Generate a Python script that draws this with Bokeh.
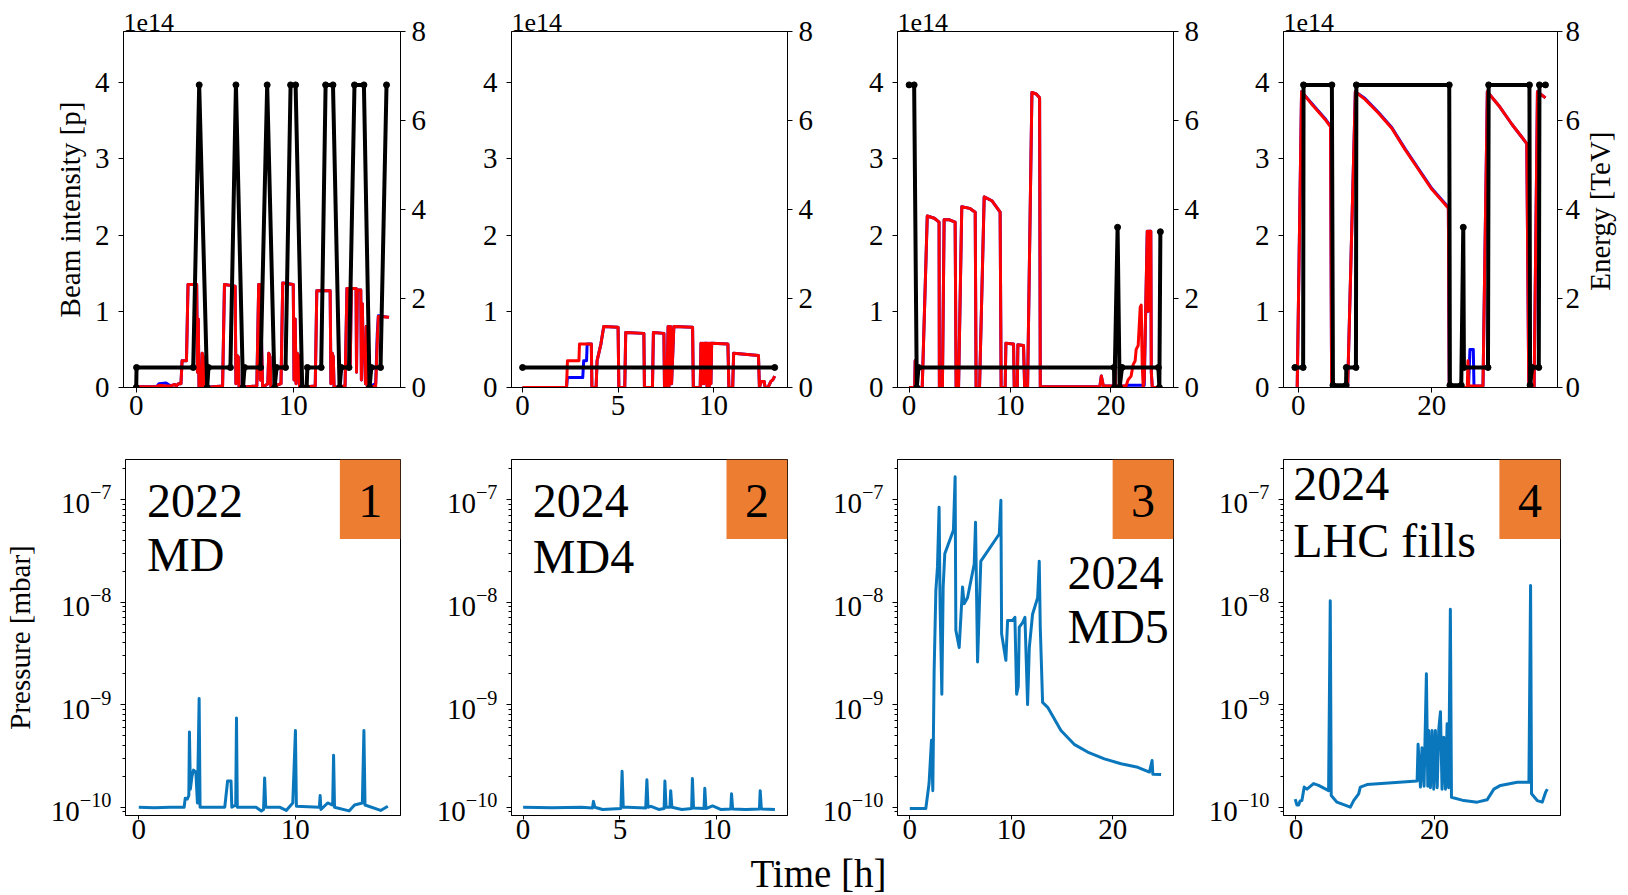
import math
from bokeh.plotting import figure
from bokeh.models import Range1d, LinearAxis, FixedTicker, Label, BoxAnnotation
from bokeh.layouts import column, row
from bokeh.embed import file_html
from bokeh.resources import INLINE

FONT = "Liberation Serif"
RED = "#ff0000"
BLUE = "#0000ff"
PBLUE = "#0a77bd"
ORANGE = "#ed7d31"

# ---------------- data: top row (beam intensity in 1e14 p, energy in TeV) ----------------
t_int1 = [0, 1.3, 1.45, 1.9, 2.2, 2.45, 2.55, 2.7, 2.85, 2.92, 3.2, 3.3, 3.85, 3.9, 3.95, 4.0, 4.15, 4.2, 4.27, 4.32,
          5.5, 5.62, 6.3, 6.35, 6.42, 6.5, 6.55, 7.68, 7.8, 7.86, 7.9, 7.98, 8.05, 8.38, 8.44, 8.52, 8.58, 9.22, 9.33,
          10.0, 10.05, 10.12, 10.18, 10.25, 10.33, 10.4, 11.4, 11.5, 12.35, 12.4, 12.48, 12.55, 12.6, 13.3, 13.42,
          13.6, 13.63, 13.7, 14.0, 14.03, 14.08, 14.3, 14.34, 14.4, 14.45, 14.55, 14.6, 14.65, 14.72, 15.25, 15.35,
          15.42, 16.1]
red1 = [0.01, 0.01, 0.03, 0.02, 0.02, 0.04, 0.02, 0.05, 0.05, 0.35, 0.35, 1.35, 1.35, 0.2, 0.9, 0, 0, 0.45, 0.4, 0,
        0.02, 1.35, 1.33, 0.05, 0.42, 0.4, 0, 0.02, 1.35, 1.35, 0.1, 0.6, 0, 0.05, 0.45, 0.4, 0, 0.05, 1.37,
        1.35, 0.1, 0.9, 0.05, 0.45, 0.42, 0, 0.02, 1.27, 1.27, 0.05, 0.45, 0.4, 0, 0.02, 1.3,
        1.3, 0.3, 1.3, 1.3, 0.2, 1.28, 1.28, 0.1, 1.1, 0.45, 0.4, 0.05, 0.8, 0, 0.02, 0.6,
        0.93, 0.92]
blue1 = [0.01, 0.01, 0.05, 0.06, 0.02, 0.04, 0.02, 0.05, 0.05, 0.35, 0.35, 1.35, 1.35, 0.2, 0.9, 0, 0, 0.45, 0.4, 0,
         0.02, 1.35, 1.33, 0.05, 0.42, 0.4, 0, 0.02, 1.35, 1.35, 0.1, 0.6, 0, 0.05, 0.45, 0.4, 0, 0.05, 1.37,
         1.35, 0.1, 0.9, 0.05, 0.45, 0.42, 0, 0.02, 1.27, 1.27, 0.05, 0.45, 0.4, 0, 0.02, 1.3,
         1.3, 0.3, 1.3, 1.3, 0.2, 1.28, 1.28, 0.1, 1.1, 0.45, 0.4, 0.05, 0.8, 0, 0.05, 0.7,
         0.94, 0.92]
t_en1 = [0, 0.02, 3.63, 4.01, 4.52, 4.6, 6.0, 6.35, 6.8, 6.9, 7.92, 8.34, 8.81, 8.94, 9.51, 9.83, 10.15, 10.57,
         10.85, 10.9, 11.78, 12.06, 12.53, 12.95, 13.06, 13.55, 13.9, 14.5, 14.86, 14.97, 15.56, 15.94]
en1 = [0, 0.45, 0.45, 6.8, 0, 0.45, 0.45, 6.8, 0, 0.45, 0.45, 6.8, 0, 0.45, 0.45, 6.8, 6.8, 0,
       0, 0.45, 0.45, 6.8, 6.8, 0, 0.45, 0.45, 6.8, 6.8, 0, 0.45, 0.45, 6.8]

t_int2 = [0, 2.3, 2.35, 2.95, 2.98, 3.6, 3.63, 3.85, 3.9, 4.1, 4.25, 5.0, 5.04, 5.35, 5.4, 6.35, 6.38, 6.8, 6.85,
          7.4, 7.43, 7.5, 7.55, 7.62, 7.66, 7.75, 7.8, 7.92, 8.9, 8.94, 9.3, 9.34, 9.4, 9.45, 9.5, 9.55, 9.62,
          9.66, 9.72, 9.77, 9.82, 9.86, 9.9, 10.75, 10.8, 11.0, 11.05, 12.35, 12.4, 12.5, 12.65, 12.7, 12.85,
          13.0, 13.1, 13.2]
red2 = [0, 0, 0.35, 0.35, 0.57, 0.57, 0, 0, 0.35, 0.57, 0.8, 0.79, 0, 0, 0.72, 0.71, 0, 0, 0.72,
        0.71, 0, 0.35, 0, 0.8, 0, 0.8, 0.05, 0.8, 0.79, 0, 0, 0.58, 0.05, 0.58, 0.05, 0.58, 0.58,
        0, 0.58, 0, 0.58, 0.05, 0.58, 0.57, 0, 0, 0.45, 0.42, 0, 0.08, 0.08, 0, 0,
        0.08, 0.1, 0.15]
t_blue2 = [0, 2.3, 2.35, 3.15, 3.2, 3.35, 3.38, 3.6, 3.63] + t_int2[7:]
blue2 = [0, 0, 0.13, 0.13, 0.35, 0.35, 0.57, 0.57, 0] + red2[7:]
t_en2 = [0, 13.2]
en2 = [0.45, 0.45]

t_int3 = [0, 0.55, 0.6, 0.68, 1.3, 1.8, 2.5, 2.97, 3.0, 3.3, 3.47, 4.0, 4.56, 4.66, 4.9, 5.22, 6.0, 6.55, 6.64,
          6.98, 7.44, 8.2, 9.02, 9.12, 9.52, 9.59, 10.35, 10.42, 10.72, 10.78, 11.34, 11.45, 11.74, 12.17, 12.6,
          12.93, 13.0, 18.9, 19.05, 19.25, 20.3, 20.4, 20.45, 21.5, 21.7, 22.0, 22.2, 22.4, 22.5, 22.7, 22.9,
          23.0, 23.1, 23.2, 23.3, 23.6, 23.7, 23.75, 23.95, 24.0, 24.1, 24.9]
red3 = [0, 0, 0.35, 0, 0, 2.25, 2.22, 2.17, 0, 0, 2.2, 2.2, 2.17, 0, 0, 2.37, 2.35, 2.3, 0,
        0, 2.5, 2.45, 2.3, 0, 0, 0.58, 0.57, 0, 0, 0.56, 0.55, 0, 0, 3.87, 3.85,
        3.8, 0.01, 0.01, 0.15, 0.02, 0.02, 0.4, 0.02, 0.02, 0.1, 0.15, 0.3, 0.35, 0.5, 0.55, 1.05,
        1.08, 0.3, 0, 0.1, 2.05, 1.0, 2.05, 2.05, 0.2, 0, 0]
blue3 = [0, 0, 0.35, 0, 0, 2.25, 2.22, 2.17, 0, 0, 2.2, 2.2, 2.17, 0, 0, 2.37, 2.35, 2.3, 0,
         0, 2.5, 2.45, 2.3, 0, 0, 0.58, 0.57, 0, 0, 0.56, 0.55, 0, 0, 3.87, 3.85,
         3.8, 0.01, 0.01, 0.15, 0.02, 0.02, 0.4, 0.02, 0.02, 0.03, 0.03, 0.03, 0.03, 0.03, 0.03, 0.03,
         0.03, 0.03, 0.02, 0.03, 2.05, 1.0, 2.05, 2.05, 0.2, 0, 0]
t_en3 = [0, 0.5, 0.76, 0.93, 20.3, 20.35, 20.66, 20.86, 21.1, 24.7, 24.8, 24.9]
en3 = [6.8, 6.8, 0, 0.45, 0.45, 0, 3.6, 0, 0.45, 0.45, 0, 3.5]

t_int4 = [-0.15, 0.5, 2.0, 4.0, 4.84, 5.0, 7.4, 8.55, 10, 12, 14, 16, 18, 20, 22, 22.47, 22.6, 25.3, 25.4, 25.5,
          25.7, 26.2, 26.3, 27.65, 28.3, 30, 32, 34.2, 34.5, 35.3, 35.8, 37.0]
red4 = [0, 3.88, 3.72, 3.52, 3.42, 0, 0, 3.88, 3.78, 3.6, 3.4, 3.12, 2.86, 2.6, 2.4, 2.35, 0, 0, 0.35, 0.02,
        0.02, 0.02, 0.02, 0.02, 3.88, 3.7, 3.45, 3.2, 0, 0, 3.88, 3.8]
blue4 = [0, 3.88, 3.73, 3.53, 3.43, 0, 0, 3.88, 3.79, 3.61, 3.41, 3.13, 2.87, 2.61, 2.41, 2.36, 0, 0, 0.0, 0.02,
         0.5, 0.5, 0.02, 0.02, 3.88, 3.7, 3.45, 3.2, 0, 0, 3.88, 3.8]
t_en4 = [-0.5, 0.74, 0.8, 5.04, 5.2, 7.16, 7.2, 8.64, 8.7, 22.6, 22.7, 24.4, 24.7, 24.8, 28.4, 28.5, 34.6, 34.7,
         35.0, 36.0, 36.1, 37.0]
en4 = [0.45, 0.45, 6.8, 6.8, 0.05, 0.05, 0.45, 0.45, 6.8, 6.8, 0.05, 0.05, 3.6, 0.45, 0.45, 6.8, 6.8, 0.05,
       0.45, 0.45, 6.8, 6.8]

# ---------------- data: bottom row (pressure in mbar) ----------------
t_p1 = [0, 1.0, 2.0, 2.9, 2.97, 3.1, 3.2, 3.24, 3.3, 3.4, 3.5, 3.65, 3.75, 3.86, 3.92, 4.5, 5.5, 5.68, 5.9, 5.95,
        6.2, 6.25, 6.3, 7.5, 7.84, 7.98, 8.05, 8.12, 9.0, 9.43, 9.85, 10.02, 10.08, 11.55, 11.6, 11.65, 12.08,
        12.4, 12.46, 12.52, 13.45, 13.8, 14.3, 14.4, 14.47, 15.47, 15.93]
p1 = [1.0e-10, 0.99e-10, 1.0e-10, 1.0e-10, 1.22e-10, 1.2e-10, 1.3e-10, 5.4e-10, 1.5e-10, 2.0e-10, 2.3e-10,
      2.2e-10, 1.1e-10, 1.15e-9, 1.0e-10, 1.0e-10, 1.0e-10, 1.8e-10, 1.8e-10, 1.0e-10,
      1.05e-10, 7.4e-10, 1.0e-10, 1.0e-10, 0.92e-10, 0.95e-10, 1.93e-10, 1.0e-10, 1.0e-10, 0.93e-10, 1.1e-10,
      5.6e-10, 1.02e-10, 1.0e-10, 1.3e-10, 0.95e-10, 1.1e-10,
      1.05e-10, 3.2e-10, 1.0e-10, 0.92e-10, 1.05e-10, 1.1e-10, 5.6e-10, 1.05e-10, 0.93e-10, 1.02e-10]

t_p2 = [0, 1.5, 3.0, 3.58, 3.63, 3.7, 4.1, 5.05, 5.11, 5.17, 5.4, 6.33, 6.39, 6.45, 6.6, 7.0, 7.28, 7.32, 7.38,
        7.58, 7.62, 7.68, 8.2, 8.7, 8.74, 8.8, 9.34, 9.38, 9.44, 9.78, 10.2, 10.72, 10.76, 10.82, 11.5, 12.2,
        12.24, 12.3, 13.0]
p2 = [1.0e-10, 0.99e-10, 1.0e-10, 0.98e-10, 1.14e-10, 1.0e-10, 0.95e-10, 0.97e-10, 2.24e-10, 1.0e-10, 1.0e-10,
      0.98e-10, 1.85e-10, 1.0e-10, 1.02e-10, 0.95e-10, 0.97e-10, 1.8e-10, 1.0e-10,
      1.0e-10, 1.45e-10, 1.0e-10, 0.95e-10, 0.97e-10, 1.9e-10, 0.98e-10, 0.97e-10, 1.53e-10, 0.97e-10, 1.03e-10,
      0.95e-10, 0.96e-10, 1.35e-10, 0.96e-10, 0.95e-10, 0.96e-10,
      1.45e-10, 0.96e-10, 0.95e-10]

t_p3 = [0, 1.58, 1.9, 2.14, 2.27, 2.4, 2.57, 2.73, 2.89, 2.99, 3.16, 3.29, 3.45, 4.3, 4.47, 4.54, 4.87, 5.2, 5.36,
        5.69, 6.35, 6.48, 6.68, 7.0, 7.34, 8.82, 8.98, 9.05, 9.47, 9.64, 10.13, 10.36, 10.53, 10.69, 10.79, 11.12,
        11.35, 11.61, 11.78, 12.1, 12.6, 12.76, 12.86, 13.09, 13.59, 14.9, 16.2, 17.53, 19.18, 20.82, 22.47,
        23.62, 23.88, 23.95, 24.77]
p3 = [0.97e-10, 0.97e-10, 1.7e-10, 4.5e-10, 1.45e-10, 2.1e-9, 1.29e-8, 2.2e-8, 8.4e-8, 8.9e-9, 1.26e-9, 1.4e-8,
      2.95e-8, 5.0e-8, 1.66e-7, 5.3e-9, 3.6e-9, 1.4e-8, 9.6e-9,
      1.1e-8, 2.35e-8, 6.0e-8, 2.6e-9, 2.5e-8, 2.8e-8, 4.6e-8, 9.8e-8, 4.9e-9, 2.7e-9, 6.6e-9, 6.6e-9, 7.1e-9,
      1.26e-9, 1.5e-9, 5.7e-9, 6.3e-9,
      7.1e-9, 1.0e-9, 3.6e-9, 7.6e-9, 1.1e-8, 2.5e-8, 5.7e-9, 1.05e-9, 9.4e-10, 5.6e-10, 4.1e-10, 3.45e-10,
      2.96e-10, 2.65e-10, 2.45e-10,
      2.2e-10, 2.85e-10, 2.1e-10, 2.08e-10]

t_p4 = [-0.1, 0.15, 0.4, 0.6, 0.87, 1.2, 1.6, 2.55, 3.28, 4.72, 4.96, 5.1, 5.93, 7.86, 8.34, 9.06, 9.3, 10.27,
        17.5, 17.64, 17.98, 18.2, 18.5, 18.84, 19.04, 19.18, 19.42, 19.66, 19.9, 20.14, 20.4, 20.63, 20.87,
        21.1, 21.35, 21.6, 21.83, 22.05, 22.3, 22.46, 24.24, 26.17, 27.6, 28.58, 29.54, 31.95, 33.64, 33.88,
        34.02, 34.84, 35.57, 36.05, 36.3]
p4 = [1.2e-10, 1.05e-10, 1.05e-10, 1.15e-10, 1.16e-10, 1.57e-10, 1.5e-10, 1.7e-10, 1.63e-10, 1.45e-10, 1.03e-8,
      1.3e-10, 1.12e-10, 1.0e-10, 1.16e-10, 1.35e-10, 1.57e-10, 1.66e-10,
      1.8e-10, 4.1e-10, 1.57e-10, 3.8e-10, 1.6e-10, 2.0e-9, 1.6e-10, 5.6e-10, 1.55e-10, 5.6e-10, 1.5e-10,
      5.6e-10, 1.55e-10, 5.8e-10, 8.5e-10,
      1.5e-10, 4.8e-10, 1.5e-10, 6.5e-10, 1.55e-10, 8.5e-9, 1.25e-10, 1.16e-10, 1.12e-10, 1.18e-10, 1.5e-10,
      1.63e-10, 1.75e-10, 1.75e-10, 1.45e-8,
      1.35e-10, 1.16e-10, 1.12e-10, 1.4e-10, 1.5e-10]

title_years = ["2022", "2024", "2024", "2024"]
title_names = ["MD", "MD4", "MD5", "LHC fills"]
panel_numbers = ["1", "2", "3", "4"]
x_ticks = [[0, 10], [0, 5, 10], [0, 10, 20], [0, 20]]

INT = [(t_int1, red1, t_int1, blue1, t_en1, en1),
       (t_int2, red2, t_blue2, blue2, t_en2, en2),
       (t_int3, red3, t_int3, blue3, t_en3, en3),
       (t_int4, red4, t_int4, blue4, t_en4, en4)]
PRES = [(t_p1, p1), (t_p2, p2), (t_p3, p3), (t_p4, p4)]
for a, b, c, d, e, f in INT:
    assert len(a) == len(b) and len(c) == len(d) and len(e) == len(f)
for a, b in PRES:
    assert len(a) == len(b)

# ---------------- layout geometry ----------------
top_x = [(-0.81, 16.83), (-0.58, 13.87), (-1.15, 26.2), (-2.2, 38.8)]
bot_x = [(-0.85, 16.74), (-0.6, 13.65), (-1.21, 25.99), (-1.79, 38.2)]
bot_pxh = [15.73, 19.37, 10.17, 6.915]
top_w = [(450, 123, 50), (387, 61, 50), (386, 60, 50), (360, 60, 23)]
bot_w = [(410, 123, 10), (387, 101, 10), (386, 100, 10), (445, 100, 68)]
title_x = [0.53, 0.5, 15.54, -0.39]
title_y1 = [6.7e-8, 6.7e-8, 1.35e-8, 9.8e-8]
title_y2 = [1.59e-8, 1.52e-8, 3.2e-9, 2.2e-8]
P_LO, P_HI = 8.3e-11, 2.45e-7


def style(ax, standoff, ticks, minor=None, tick_out=5):
    ax.ticker = FixedTicker(ticks=ticks, minor_ticks=minor or [])
    ax.major_label_text_font = FONT
    ax.major_label_text_font_size = "29px"
    ax.major_label_text_color = "black"
    ax.major_label_standoff = standoff
    ax.major_tick_out = tick_out
    ax.major_tick_in = 0
    ax.minor_tick_out = 3
    ax.minor_tick_in = 0
    ax.axis_line_color = "black"
    ax.major_tick_line_color = "black"
    ax.minor_tick_line_color = "black"
    ax.axis_label_text_font = FONT
    ax.axis_label_text_font_style = "normal"
    ax.axis_label_text_font_size = "29px"
    ax.axis_label_text_color = "black"


def blank(width, height):
    f = figure(width=width, height=height, x_range=Range1d(0, width), y_range=Range1d(0, height),
               x_axis_location=None, y_axis_location=None, min_border=0,
               output_backend="svg", toolbar_location=None)
    f.grid.visible = False
    f.outline_line_color = None
    return f


tops = []
for i in range(4):
    w, lb, rb = top_w[i]
    p = figure(width=w, height=428, x_range=Range1d(*top_x[i]), y_range=Range1d(0, 4.67),
               output_backend="svg", toolbar_location=None, title="1e14",
               min_border_left=lb, min_border_right=rb, min_border_top=31, min_border_bottom=41)
    p.title.text_font = FONT
    p.title.text_font_size = "26px"
    p.title.text_font_style = "normal"
    p.title.text_color = "black"
    p.title.align = "left"
    p.title.standoff = 2
    p.extra_y_ranges = {"energy": Range1d(0, 8)}
    ax_r = LinearAxis(y_range_name="energy")
    p.add_layout(ax_r, "right")
    p.grid.visible = False
    p.outline_line_color = "black"
    p.outline_line_alpha = 1
    style(p.below[0], 3, x_ticks[i])
    style(p.left[0], 9, [0, 1, 2, 3, 4])
    style(ax_r, 3 if i == 3 else 6, [0, 2, 4, 6, 8])
    if i == 0:
        p.left[0].axis_label = "Beam intensity [p]"
        p.left[0].axis_label_standoff = 6
    ti, r, tb, b, te, e = INT[i]
    p.line(tb, b, color=BLUE, line_width=3, line_join="round")
    p.line(ti, r, color=RED, line_width=3, line_join="round")
    p.line(te, e, y_range_name="energy", color="black", line_width=4, line_join="round")
    p.scatter(te, e, y_range_name="energy", size=6, color="black")
    tops.append(p)

# right-hand axis title of the last intensity panel (reads bottom-to-top)
elab = blank(45, 428)
elab.add_layout(Label(x=16.5, y=212, text="Energy [TeV]", angle=math.pi / 2, text_align="center",
                      text_baseline="middle", text_font=FONT, text_font_size="29px", text_color="black"))

minor = [k * 10.0 ** ex for ex in (-11, -10, -9, -8, -7) for k in range(2, 10)]
minor = [m for m in minor if P_LO <= m <= P_HI]

bots = []
for i in range(4):
    w, lb, rb = bot_w[i]
    g = figure(width=w, height=423, x_range=Range1d(*bot_x[i]), y_range=Range1d(P_LO, P_HI),
               y_axis_type="log", output_backend="svg", toolbar_location=None,
               min_border_left=lb, min_border_right=rb, min_border_top=31, min_border_bottom=36)
    g.grid.visible = False
    g.outline_line_color = "black"
    g.outline_line_alpha = 1
    style(g.below[0], 0, x_ticks[i], tick_out=4)
    style(g.left[0], 9, [1e-10, 1e-9, 1e-8, 1e-7], minor)
    if i == 0:
        g.left[0].axis_label = "Pressure [mbar]"
        g.left[0].axis_label_standoff = 12
    t, pv = PRES[i]
    g.line(t, pv, color=PBLUE, line_width=3, line_join="round")
    x1 = bot_x[i][1]
    bw = 61.0 / bot_pxh[i]
    g.add_layout(BoxAnnotation(left=x1 - bw, right=x1, bottom=4.12e-8, top=P_HI,
                               fill_color=ORANGE, fill_alpha=1, line_color=None))
    g.add_layout(Label(x=x1 - bw / 2, y=6.8e-8, text=panel_numbers[i], text_align="center",
                       text_font=FONT, text_font_size="48px", text_color="black"))
    g.add_layout(Label(x=title_x[i], y=title_y1[i], text=title_years[i], text_font=FONT,
                       text_font_size="48px", text_color="black"))
    g.add_layout(Label(x=title_x[i], y=title_y2[i], text=title_names[i], text_font=FONT,
                       text_font_size="48px", text_color="black"))
    bots.append(g)

lab = blank(1628, 44)
lab.add_layout(Label(x=818, y=0.4, text="Time [h]", text_align="center", text_baseline="bottom",
                     text_font=FONT, text_font_size="39px", text_color="black"))

layout = column(row(*tops, elab), row(*bots), lab)
open("out.html", "w").write(file_html(layout, INLINE))
